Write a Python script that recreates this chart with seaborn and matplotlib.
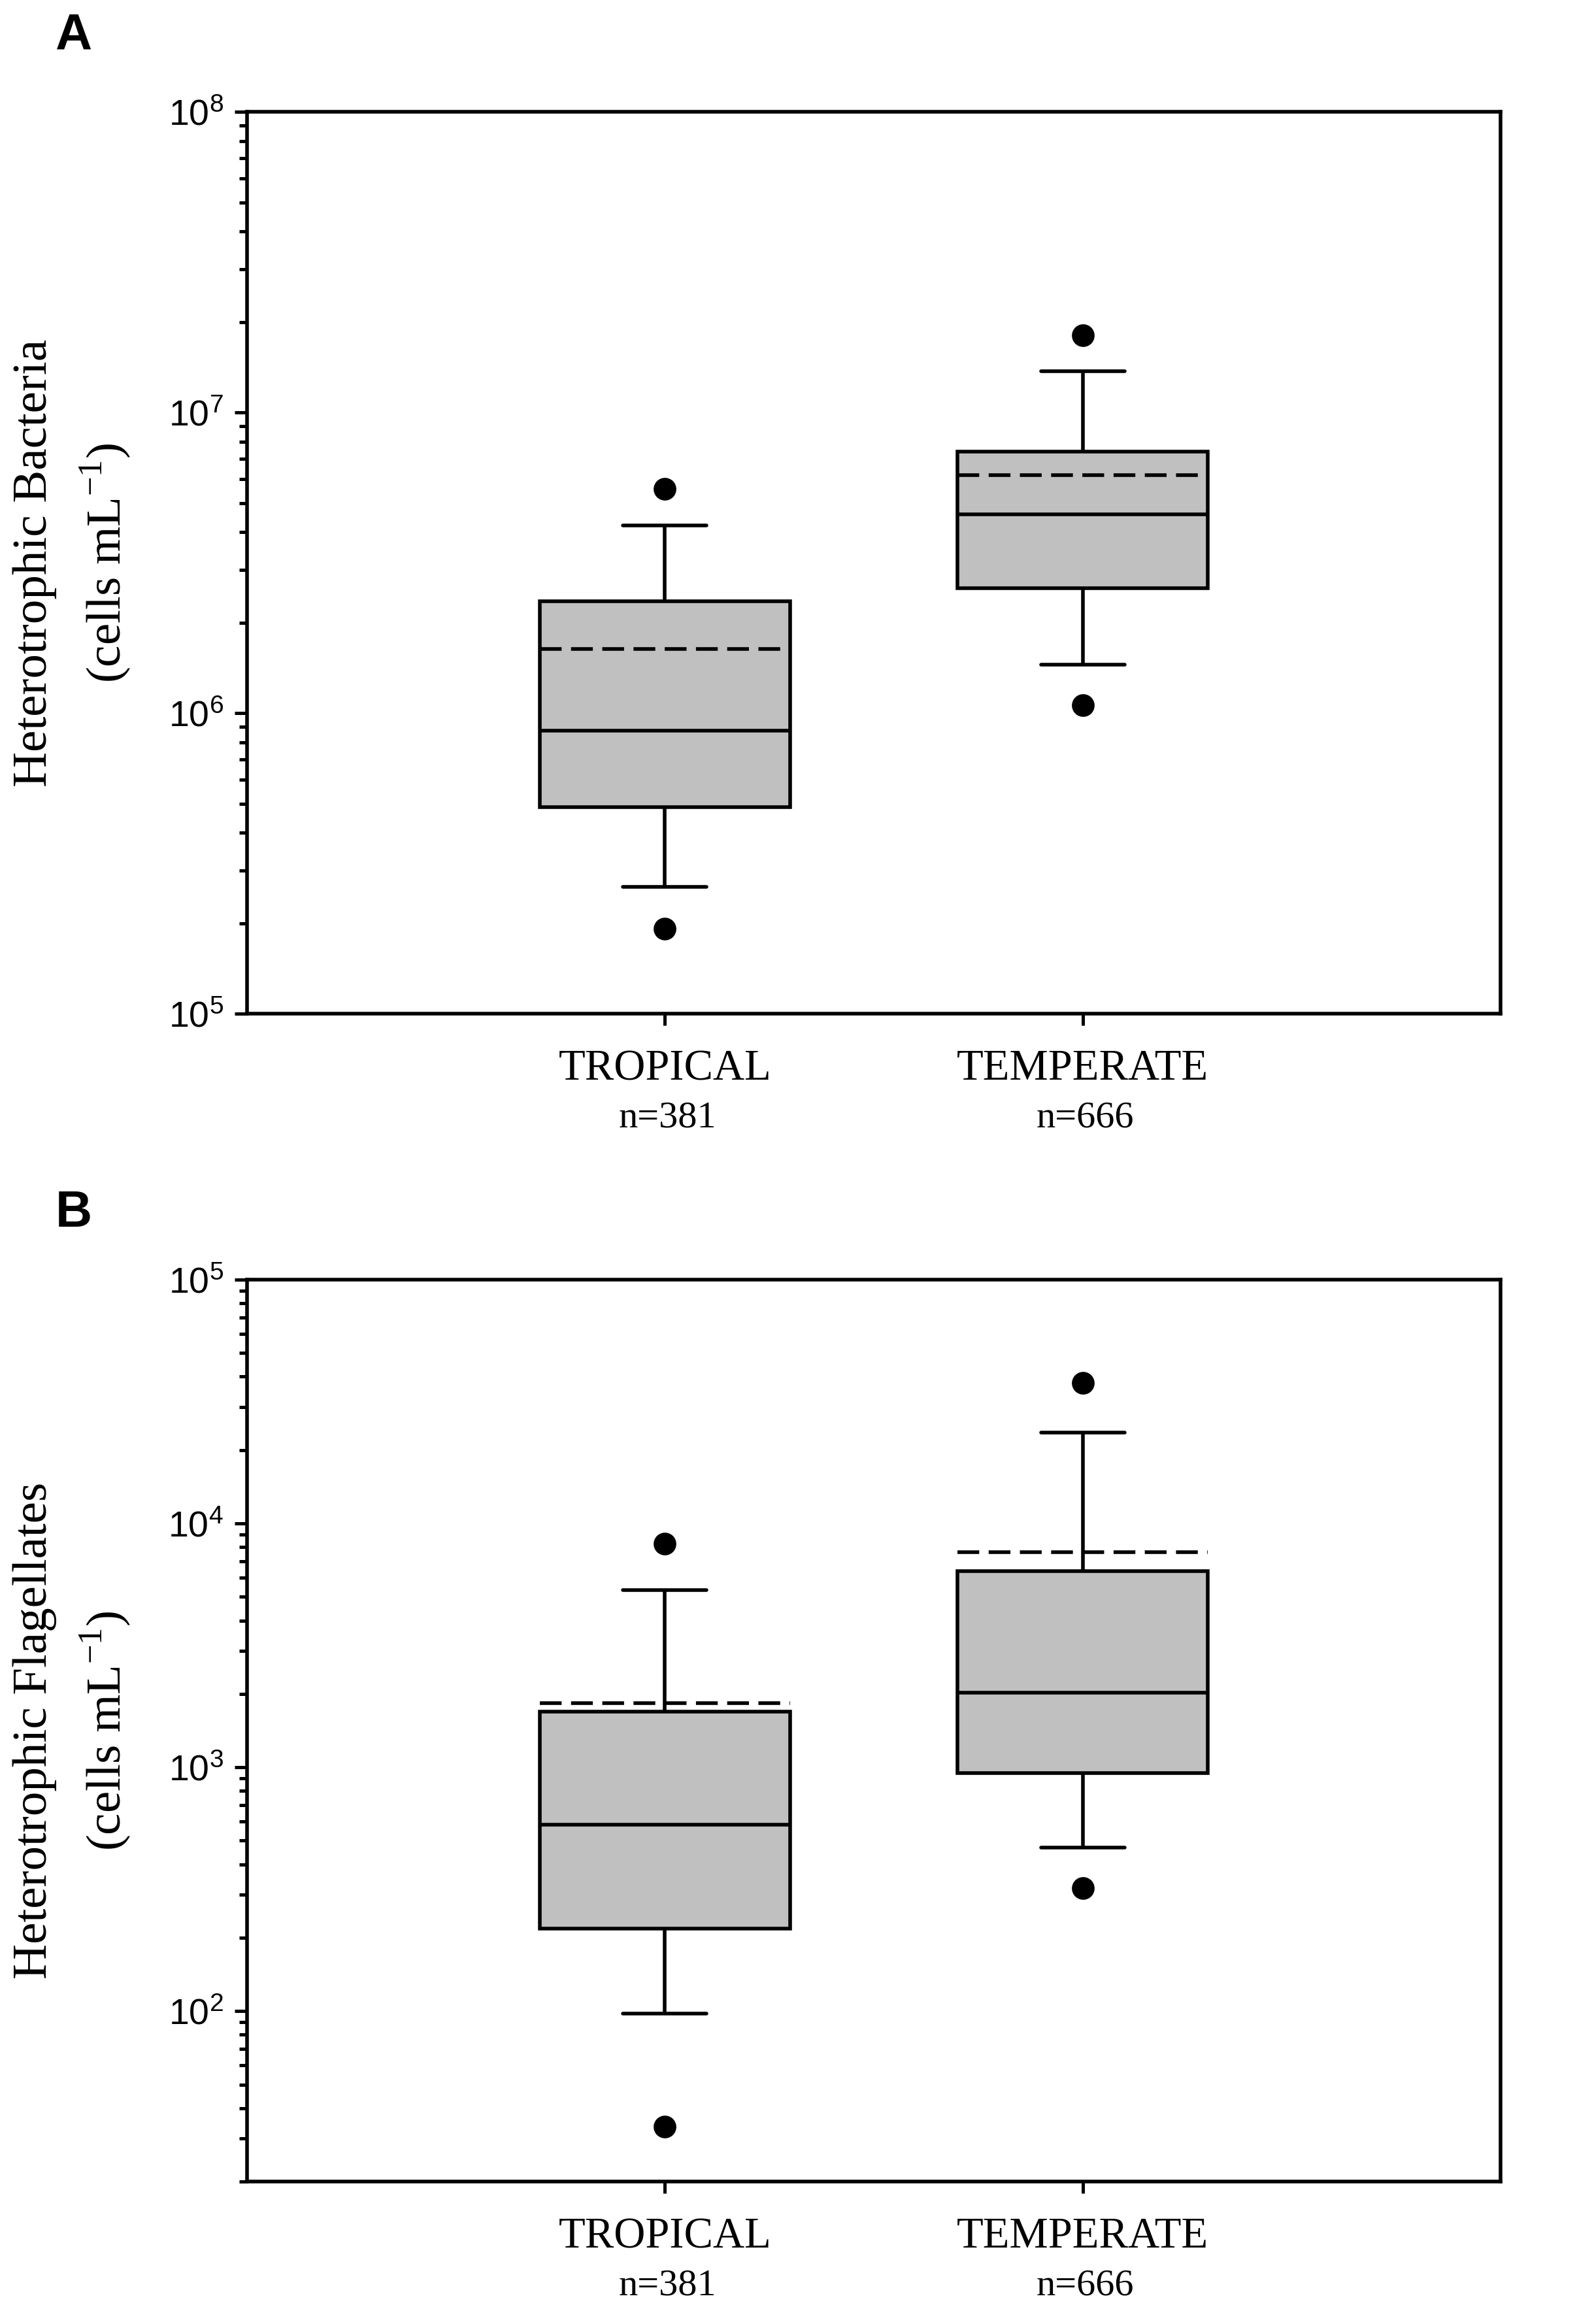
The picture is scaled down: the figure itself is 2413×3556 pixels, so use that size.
import numpy as np
import pandas as pd
import seaborn as sns
import matplotlib.pyplot as plt

### DATA
regions = ["TROPICAL", "TEMPERATE"]
n_counts = [381, 666]

# A - heterotrophic bacteria (cells mL-1)
bact_p5 = [1.92e5, 1.06e6]
bact_p10 = [2.64e5, 1.45e6]
bact_q1 = [4.87e5, 2.60e6]
bact_median = [8.73e5, 4.59e6]
bact_q3 = [2.35e6, 7.41e6]
bact_p90 = [4.20e6, 1.37e7]
bact_p95 = [5.56e6, 1.81e7]
bact_mean = [1.63e6, 6.18e6]

# B - heterotrophic flagellates (cells mL-1)
flag_p5 = [33.6, 319]
flag_p10 = [98, 469]
flag_q1 = [218, 944]
flag_median = [581, 2020]
flag_q3 = [1690, 6370]
flag_p90 = [5340, 23600]
flag_p95 = [8250, 37700]
flag_mean = [1830, 7640]

BOX_GREY = "#c0c0c0"
SERIF = "Liberation Serif"

sns.set_style("ticks")
plt.rcParams["font.family"] = ["Liberation Sans", "DejaVu Sans"]
plt.rcParams["lines.dashed_pattern"] = [6, 2.6]
for key in ["text.color", "axes.labelcolor", "xtick.color", "ytick.color", "axes.edgecolor"]:
    plt.rcParams[key] = "black"


def box_frame(p10, q1, med, q3, p90):
    # five values per group -> quartiles land exactly on them, whiskers on min/max
    rows = []
    for i, r in enumerate(regions):
        for v in (p10[i], q1[i], med[i], q3[i], p90[i]):
            rows.append({"region": r, "value": v})
    return pd.DataFrame(rows)


def outlier_frame(p5, p95):
    rows = []
    for i, r in enumerate(regions):
        rows.append({"region": r, "value": p5[i]})
        rows.append({"region": r, "value": p95[i]})
    return pd.DataFrame(rows)


def draw_panel(ax, p5, p10, q1, med, q3, p90, p95, mean, ylim, ylabel):
    sns.boxplot(data=box_frame(p10, q1, med, q3, p90), x="region", y="value",
                order=regions, whis=(0, 100), width=0.6, color=BOX_GREY,
                saturation=1, linecolor="black", linewidth=2.0,
                showfliers=False, log_scale=True, capwidths=0.2, ax=ax)
    sns.stripplot(data=outlier_frame(p5, p95), x="region", y="value",
                  order=regions, jitter=False, color="black", size=12.5,
                  linewidth=0, log_scale=True, zorder=6, ax=ax)
    pos = np.arange(len(regions))
    ax.hlines(mean, pos - 0.3, pos + 0.3, colors="black", linestyles="--",
              linewidth=2.0, zorder=5)

    ax.set_xlim(-1, 2)
    ax.set_ylim(*ylim)
    ax.set_xlabel("")
    ax.set_xticks(pos)
    ax.set_xticklabels(regions, fontfamily=SERIF, fontsize=24)
    # sample sizes under the category names, a bit smaller
    for p, n in zip(pos, n_counts):
        ax.annotate(f"n={n}", xy=(p, 0), xycoords=("data", "axes fraction"),
                    xytext=(1.5, -48), textcoords="offset points",
                    ha="center", va="top", fontfamily=SERIF, fontsize=21)
    ax.tick_params(axis="x", which="major", length=6.5, width=1.8, pad=13,
                   top=False)
    ax.tick_params(axis="y", which="major", length=7, width=1.8, pad=6,
                   labelsize=20, right=False)
    ax.tick_params(axis="y", which="minor", length=4.5, width=1.8, right=False)
    for s in ax.spines.values():
        s.set_visible(True)
        s.set_linewidth(2.0)
        s.set_color("black")

    ax.set_ylabel(ylabel, fontfamily=SERIF, fontsize=27, linespacing=1.5)
    ax.yaxis.set_label_coords(-0.139, 0.5)
    ax.yaxis.label.set_va("center")


fig = plt.figure(figsize=(2413 / 200, 3556 / 200), dpi=200)
axA = fig.add_axes([0.1567, 0.5638, 0.7948, 0.3881])
axB = fig.add_axes([0.1567, 0.0613, 0.7948, 0.3881])

draw_panel(axA, bact_p5, bact_p10, bact_q1, bact_median, bact_q3, bact_p90,
           bact_p95, bact_mean, (1e5, 1e8),
           "Heterotrophic Bacteria\n(cells mL$^{\\mathregular{-1}}$)")
draw_panel(axB, flag_p5, flag_p10, flag_q1, flag_median, flag_q3, flag_p90,
           flag_p95, flag_mean, (20, 1e5),
           "Heterotrophic Flagellates\n(cells mL$^{\\mathregular{-1}}$)")

fig.text(0.035, 0.9949, "A", fontsize=28, fontweight="bold", ha="left", va="top")
fig.text(0.035, 0.4882, "B", fontsize=28, fontweight="bold", ha="left", va="top")

fig.savefig("out.png", dpi=200)
